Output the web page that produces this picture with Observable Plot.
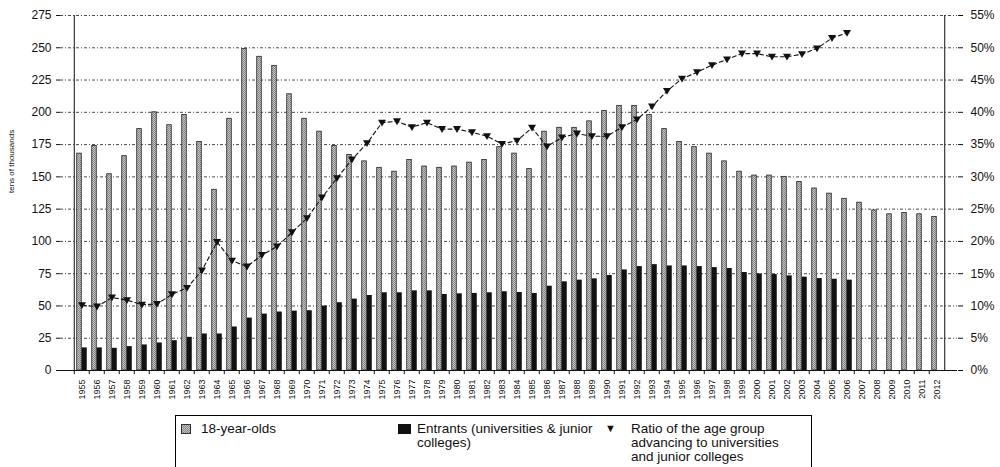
<!DOCTYPE html>
<html>
<head>
<meta charset="utf-8">
<script src="https://cdn.jsdelivr.net/npm/d3@7"></script>
<script src="https://cdn.jsdelivr.net/npm/@observablehq/plot@0.6"></script>
<style>
  body { margin: 0; background: #fff; font-family: "Liberation Sans", Arial, Helvetica, sans-serif; }
  #legend { position: relative; margin-left: 175px; margin-top: 7px; width: 637px; height: 60px;
            border: 1px solid #000; border-bottom: none; box-sizing: border-box; font-size: 13.5px; color: #111; line-height: 14px; }
  #legend .sw { position: absolute; width: 10px; height: 10px; }
  #legend .tx { position: absolute; }
</style>
</head>
<body>
<div id="chart"></div>
<div id="legend">
  <svg class="sw" style="left:5px;top:8px" width="10" height="10"><rect x="0.5" y="0.5" width="9" height="9" fill="url(#stip)" stroke="#333" stroke-width="1"/></svg>
  <div class="tx" style="left:25px;top:6px">18-year-olds</div>
  <div class="sw" style="left:222px;top:8px;width:13px;background:#111"></div>
  <div class="tx" style="left:241px;top:6px">Entrants (universities &amp; junior<br>colleges)</div>
  <div class="tx" style="left:429px;top:5px;font-size:11px">▼</div>
  <div class="tx" style="left:455px;top:6px">Ratio of the age group<br>advancing to universities<br>and junior colleges</div>
</div>
<script>
const years = d3.range(1955, 2013);

const pop18 = [168,174,152,166,187,200,190,198,177,140,
               195,249,243,236,214,195,185,174,167,162,
               157,154,163,158,157,158,161,163,173,168,
               156,185,188,188,193,201,205,205,198,187,
               177,173,168,162,154,151,151,150,146,141,
               137,133,130,124,121,122,121,119];

const entrants = [17.5,17.5,17.2,18.5,19.8,21.3,23.1,25.7,28.3,28.3,
                  33.7,40.6,43.7,45.3,46.0,46.3,49.9,52.5,55.3,58.1,
                  60.2,60.2,61.7,61.7,58.9,59.4,59.7,60.2,61.0,60.4,
                  59.7,65.3,68.7,70.0,71.0,73.6,77.9,80.5,82.0,81.0,
                  81.0,80.5,79.7,79.0,75.9,74.8,74.3,73.3,72.3,71.2,
                  70.7,70.0];

const ratio = [10.1,9.9,11.3,10.9,10.2,10.3,11.8,12.8,15.5,19.9,
               17.0,16.1,17.9,19.2,21.4,23.6,26.8,29.8,32.7,35.2,
               38.4,38.6,37.7,38.4,37.4,37.4,36.9,36.3,35.1,35.6,
               37.6,34.7,36.1,36.7,36.3,36.3,37.7,38.9,40.9,43.3,
               45.2,46.2,47.3,48.2,49.1,49.1,48.6,48.6,49.0,49.9,
               51.5,52.3];

const leftTicks = [0,25,50,75,100,125,150,175,200,225,250,275];
const gridTicks = leftTicks.slice(1);
const pctPerUnit = 5; // 55% on the right axis aligns with 275 on the left axis

const popData = years.map((y, i) => ({year: y, v: pop18[i]}));
const entData = entrants.map((v, i) => ({year: years[i], v}));
const ratioData = ratio.map((r, i) => ({year: years[i], r}));

const W = 1000, H = 408, mL = 60, mR = 43, mT = 15, mB = 38;
const bw = (W - mL - mR) / years.length;
const half = bw / 2;

const triDown = {
  draw(ctx, size) {
    const r = Math.sqrt(size / Math.PI);
    ctx.moveTo(-r, -r * 0.75);
    ctx.lineTo(r, -r * 0.75);
    ctx.lineTo(0, r * 0.95);
    ctx.closePath();
  }
};

const chart = Plot.plot({
  width: W, height: H,
  marginLeft: mL, marginRight: mR, marginTop: mT, marginBottom: mB,
  style: {fontFamily: '"Liberation Sans", Arial, Helvetica, sans-serif', background: "#fff", color: "#111"},
  x: {type: "band", domain: years, padding: 0, axis: null},
  y: {domain: [0, 275], axis: null},
  marks: [
    Plot.ruleY(gridTicks, {stroke: "#111", strokeWidth: 0.9, strokeDasharray: "3,2,1,2", strokeOpacity: 0.85}),
    Plot.barY(popData, {x: "year", y: "v", fill: "url(#stip)", stroke: "#222", strokeWidth: 0.8,
      insetLeft: half - 5, insetRight: half}),
    Plot.barY(entData, {x: "year", y: "v", fill: "#111", insetLeft: half, insetRight: half - 5.5}),
    Plot.ruleY([0], {stroke: "#111", strokeWidth: 1}),
    Plot.ruleX([years[0]], {x: d => d, dx: -half, stroke: "#111", strokeWidth: 1}),
    Plot.ruleX([years[years.length - 1]], {x: d => d, dx: half, stroke: "#111", strokeWidth: 1}),
    Plot.ruleX(years, {x: d => d, dx: -half, y1: 0, y2: -3.2, stroke: "#111", strokeWidth: 1}),
    Plot.axisY({anchor: "left", ticks: leftTicks, tickSize: 4, tickPadding: 5, fontSize: 12, label: null}),
    Plot.axisY({anchor: "right", ticks: leftTicks, tickSize: 5, tickPadding: 8, fontSize: 12, label: null,
      tickFormat: d => (d / pctPerUnit) + "%"}),
    Plot.axisX({anchor: "bottom", tickSize: 0, tickPadding: 9, tickRotate: -90, fontSize: 9, label: null,
      tickFormat: d => String(d)}),
    Plot.text(["tens of thousands"], {text: d => d, frameAnchor: "left", rotate: -90, dx: -49, fontSize: 8, fill: "#111"}),
    Plot.line(ratioData, {x: "year", y: d => d.r * pctPerUnit, stroke: "#111", strokeWidth: 1.1, strokeDasharray: "4,3"}),
    Plot.dot(ratioData, {x: "year", y: d => d.r * pctPerUnit, symbol: triDown, r: 4, fill: "#111", stroke: "none"})
  ]
});

// stipple pattern used for the 18-year-olds bars
const defs = d3.select(chart).insert("defs", ":first-child");
const pat = defs.append("pattern").attr("id", "stip").attr("width", 2).attr("height", 2).attr("patternUnits", "userSpaceOnUse");
pat.append("rect").attr("width", 2).attr("height", 2).attr("fill", "#c4c4c4");
pat.append("rect").attr("x", 0).attr("y", 0).attr("width", 1).attr("height", 1).attr("fill", "#808080");
pat.append("rect").attr("x", 1).attr("y", 1).attr("width", 1).attr("height", 1).attr("fill", "#8c8c8c");

document.getElementById("chart").appendChild(chart);
</script>
</body>
</html>
